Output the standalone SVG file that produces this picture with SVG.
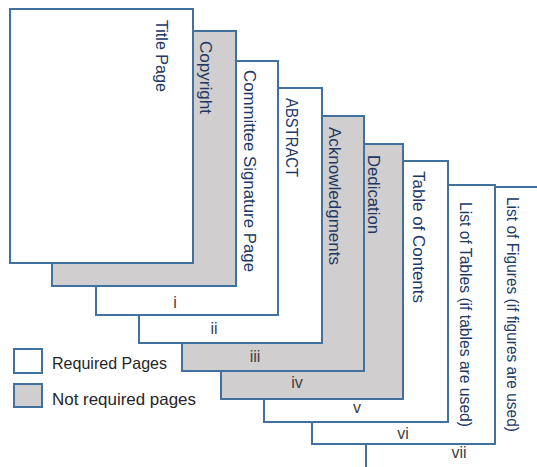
<svg xmlns="http://www.w3.org/2000/svg" width="537" height="467" viewBox="0 0 537 467">
<style>
.pg{stroke:#41719C;stroke-width:2}
.req{fill:#FFFFFF}
.opt{fill:#D0CECE}
.lbl{font-family:"Liberation Sans",Arial,sans-serif;font-size:16px;fill:#203864}
.num{font-family:"Liberation Sans",Arial,sans-serif;font-size:16px;fill:#404040;text-anchor:middle}
.leg{font-family:"Liberation Sans",Arial,sans-serif;font-size:16.5px;fill:#262626}
</style>
<rect width="537" height="467" fill="#FFFFFF"/>
<g id="page-list-of-figures">
<rect class="pg req" x="366" y="187" width="190" height="300"/>
<text class="lbl" transform="translate(506.5,197) rotate(90)" textLength="235" lengthAdjust="spacingAndGlyphs">List of Figures (if figures are used)</text>
<text class="num" x="459" y="458">vii</text>
</g>
<g id="page-list-of-tables">
<rect class="pg req" x="312" y="185" width="183" height="259"/>
<text class="lbl" transform="translate(459.5,202) rotate(90)" textLength="225" lengthAdjust="spacingAndGlyphs">List of Tables (if tables are used)</text>
<text class="num" x="403" y="439">vi</text>
</g>
<g id="page-table-of-contents">
<rect class="pg req" x="264" y="161" width="184" height="261"/>
<text class="lbl" transform="translate(412.5,171) rotate(90)" textLength="132" lengthAdjust="spacingAndGlyphs">Table of Contents</text>
<text class="num" x="357" y="413">v</text>
</g>
<g id="page-dedication">
<rect class="pg opt" x="221" y="144" width="182" height="255"/>
<text class="lbl" transform="translate(367.5,155) rotate(90)" textLength="79" lengthAdjust="spacingAndGlyphs">Dedication</text>
<text class="num" x="297" y="388">iv</text>
</g>
<g id="page-acknowledgments">
<rect class="pg opt" x="182" y="116" width="182" height="255"/>
<text class="lbl" transform="translate(328.5,127) rotate(90)" textLength="138" lengthAdjust="spacingAndGlyphs">Acknowledgments</text>
<text class="num" x="255" y="362">iii</text>
</g>
<g id="page-abstract">
<rect class="pg req" x="139" y="88" width="183" height="255"/>
<text class="lbl" transform="translate(285.5,98) rotate(90)" textLength="79" lengthAdjust="spacingAndGlyphs">ABSTRACT</text>
<text class="num" x="214" y="334">ii</text>
</g>
<g id="page-committee-signature">
<rect class="pg req" x="96" y="61" width="182" height="254"/>
<text class="lbl" transform="translate(243.5,70) rotate(90)" textLength="202" lengthAdjust="spacingAndGlyphs">Committee Signature Page</text>
<text class="num" x="175" y="308">i</text>
</g>
<g id="page-copyright">
<rect class="pg opt" x="52" y="31" width="184" height="255"/>
<text class="lbl" transform="translate(199.5,41) rotate(90)" textLength="73" lengthAdjust="spacingAndGlyphs">Copyright</text>
</g>
<g id="page-title">
<rect class="pg req" x="10" y="9" width="183" height="254"/>
<text class="lbl" transform="translate(155.5,20) rotate(90)" textLength="72" lengthAdjust="spacingAndGlyphs">Title Page</text>
</g>
<g id="legend">
<rect class="pg req" x="14" y="349" width="28" height="24"/>
<text class="leg" x="52" y="369" textLength="115" lengthAdjust="spacingAndGlyphs">Required Pages</text>
<rect class="pg opt" x="14" y="384" width="28" height="23"/>
<text class="leg" x="52" y="405" textLength="144" lengthAdjust="spacingAndGlyphs">Not required pages</text>
</g>
</svg>
